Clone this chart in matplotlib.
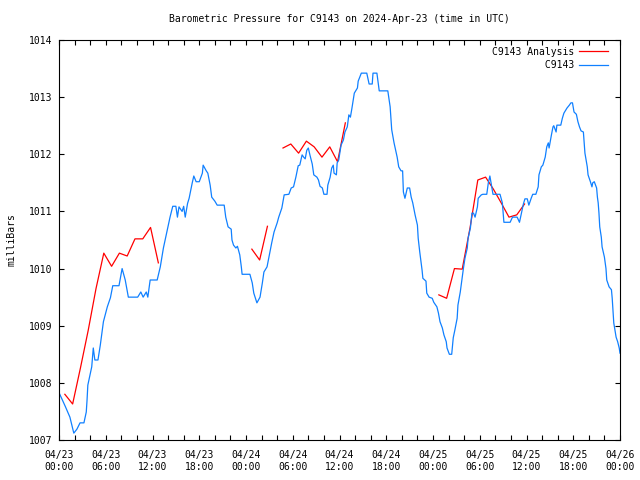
import numpy as np
import matplotlib
matplotlib.use("Agg")
import matplotlib.pyplot as plt

# hours since 2024-04-23 00:00 UTC
station_hours = [0.1, 0.8, 1.4, 1.9, 2.3, 2.7, 3.2, 3.5, 3.6, 3.7, 4.2, 4.4, 4.6, 5.0, 5.3, 5.7, 6.2, 6.6, 6.9, 7.7,
                 8.1, 8.5, 8.9, 10.1, 10.5, 10.8, 11.2, 11.4, 11.7, 12.6, 13.0, 13.4, 13.9, 14.25, 14.6, 15.0, 15.2, 15.4, 15.8, 16.0,
                 16.2, 16.5, 16.7, 17.1, 17.3, 17.6, 18.0, 18.4, 18.5, 18.9, 19.1, 19.4, 19.6, 20.0, 20.3, 21.2, 21.4, 21.7, 22.1, 22.2,
                 22.4, 22.7, 22.9, 23.2, 23.4, 23.5, 24.5, 24.8, 25.0, 25.4, 25.8, 26.1, 26.3, 26.7, 27.0, 27.3, 27.6, 28.0, 28.2, 28.6,
                 28.9, 29.5, 29.8, 30.1, 30.4, 30.7, 30.9, 31.2, 31.4, 31.6, 31.8, 32.0, 32.2, 32.5, 32.7, 33.1, 33.3, 33.5, 33.8, 34.0,
                 34.4, 34.5, 34.8, 35.0, 35.2, 35.3, 35.6, 35.7, 35.9, 36.2, 36.5, 36.7, 37.0, 37.2, 37.4, 37.6, 37.9, 38.3, 38.4, 38.8,
                 39.5, 39.8, 40.2, 40.3, 40.8, 41.1, 42.2, 42.5, 42.7, 43.0, 43.4, 43.6, 43.9, 44.1, 44.2, 44.4, 44.7, 45.0, 45.2, 45.4,
                 45.7, 46.0, 46.1, 46.3, 46.6, 46.7, 47.1, 47.2, 47.5, 47.9, 48.1, 48.5, 48.7, 48.9, 49.2, 49.4, 49.7, 49.8, 50.1, 50.4,
                 50.6, 50.8, 51.1, 51.2, 51.5, 51.7, 51.9, 52.1, 52.4, 52.5, 52.8, 53.0, 53.2, 53.4, 53.7, 53.8, 54.2, 54.4, 54.9, 55.1,
                 55.3, 55.6, 55.7, 56.6, 56.9, 57.1, 57.9, 58.2, 58.8, 59.1, 59.3, 59.6, 59.8, 60.1, 60.3, 60.6, 60.8, 61.2, 61.5, 61.6,
                 61.9, 62.1, 62.4, 62.6, 62.8, 62.9, 63.2, 63.4, 63.5, 63.8, 63.9, 64.4, 64.6, 64.8, 65.2, 65.5, 65.7, 65.9, 66.1, 66.4,
                 66.6, 66.8, 67.0, 67.3, 67.4, 67.5, 67.8, 67.9, 68.2, 68.4, 68.5, 68.7, 69.0, 69.1, 69.2, 69.3, 69.4, 69.6, 69.7, 70.0,
                 70.2, 70.3, 70.6, 70.9, 71.0, 71.1, 71.2, 71.5, 71.7, 71.9, 72.0]
station_mb = [1007.80, 1007.59, 1007.40, 1007.12, 1007.19, 1007.30, 1007.30, 1007.49, 1007.70, 1007.96, 1008.28, 1008.61, 1008.40, 1008.40, 1008.66, 1009.07, 1009.33, 1009.49, 1009.70, 1009.70,
              1010.00, 1009.80, 1009.50, 1009.50, 1009.59, 1009.50, 1009.59, 1009.50, 1009.80, 1009.80, 1010.03, 1010.36, 1010.68, 1010.90, 1011.09, 1011.09, 1010.90, 1011.08, 1011.00, 1011.09,
              1010.90, 1011.14, 1011.23, 1011.50, 1011.62, 1011.52, 1011.52, 1011.67, 1011.81, 1011.71, 1011.67, 1011.46, 1011.25, 1011.18, 1011.11, 1011.11, 1010.90, 1010.73, 1010.69, 1010.50,
              1010.41, 1010.36, 1010.39, 1010.24, 1010.03, 1009.90, 1009.90, 1009.75, 1009.57, 1009.40, 1009.50, 1009.75, 1009.94, 1010.03, 1010.24, 1010.45, 1010.64, 1010.80, 1010.90, 1011.06,
              1011.29, 1011.30, 1011.41, 1011.43, 1011.60, 1011.80, 1011.81, 1011.99, 1011.95, 1011.92, 1012.07, 1012.11, 1011.99, 1011.83, 1011.64, 1011.60, 1011.55, 1011.44, 1011.41, 1011.30,
              1011.30, 1011.46, 1011.60, 1011.76, 1011.81, 1011.67, 1011.64, 1011.85, 1011.90, 1012.16, 1012.25, 1012.39, 1012.48, 1012.69, 1012.65, 1012.81, 1013.07, 1013.16, 1013.28, 1013.42,
              1013.42, 1013.23, 1013.23, 1013.42, 1013.42, 1013.11, 1013.11, 1012.83, 1012.43, 1012.20, 1011.95, 1011.78, 1011.71, 1011.71, 1011.34, 1011.23, 1011.41, 1011.41, 1011.25, 1011.15,
              1010.94, 1010.76, 1010.53, 1010.29, 1009.97, 1009.83, 1009.78, 1009.57, 1009.50, 1009.48, 1009.41, 1009.33, 1009.22, 1009.07, 1008.96, 1008.84, 1008.72, 1008.61, 1008.50, 1008.50,
              1008.79, 1008.92, 1009.13, 1009.36, 1009.59, 1009.80, 1010.00, 1010.18, 1010.36, 1010.53, 1010.71, 1010.97, 1010.97, 1010.90, 1011.08, 1011.23, 1011.29, 1011.30, 1011.30, 1011.50,
              1011.62, 1011.38, 1011.30, 1011.30, 1011.15, 1010.81, 1010.81, 1010.90, 1010.90, 1010.81, 1010.94, 1011.13, 1011.22, 1011.22, 1011.11, 1011.23, 1011.30, 1011.30, 1011.43, 1011.64,
              1011.78, 1011.81, 1011.95, 1012.13, 1012.20, 1012.11, 1012.34, 1012.48, 1012.50, 1012.39, 1012.51, 1012.51, 1012.63, 1012.72, 1012.81, 1012.86, 1012.90, 1012.90, 1012.74, 1012.70,
              1012.57, 1012.48, 1012.41, 1012.39, 1012.20, 1012.02, 1011.78, 1011.64, 1011.52, 1011.43, 1011.50, 1011.52, 1011.41, 1011.25, 1011.15, 1010.97, 1010.73, 1010.55, 1010.38, 1010.20,
              1010.00, 1009.80, 1009.68, 1009.63, 1009.48, 1009.27, 1009.05, 1008.80, 1008.72, 1008.61, 1008.52]

# hourly analysis values (nan = no value)
nan = np.nan
analysis_hours = [h + 0.75 for h in range(60)]
analysis_mb = [1007.80, 1007.63, 1008.26, 1008.92, 1009.65, 1010.27, 1010.04, 1010.27, 1010.22, 1010.52,
               1010.52, 1010.72, 1010.10, nan, nan, nan, nan, nan, nan, nan,
               nan, nan, nan, nan, 1010.34, 1010.15, 1010.74, nan, 1012.11, 1012.18,
               1012.02, 1012.23, 1012.13, 1011.95, 1012.13, 1011.87, 1012.55, nan, nan, nan,
               nan, nan, nan, nan, nan, nan, nan, nan, 1009.54, 1009.48,
               1010.00, 1009.99, 1010.71, 1011.55, 1011.60, 1011.39, 1011.15, 1010.90, 1010.94, 1011.13]

tick_hours = list(range(0, 73, 6))
tick_labels = ["04/23\n00:00", "04/23\n06:00", "04/23\n12:00", "04/23\n18:00",
               "04/24\n00:00", "04/24\n06:00", "04/24\n12:00", "04/24\n18:00",
               "04/25\n00:00", "04/25\n06:00", "04/25\n12:00", "04/25\n18:00",
               "04/26\n00:00"]

plt.rcParams['font.family'] = ['DejaVu Sans Mono']
fs = 7

fig = plt.figure(figsize=(6.4, 4.8), dpi=100)
ax = fig.add_axes([59/640, 40/480, 561/640, 400/480])

ax.plot(analysis_hours, analysis_mb, color="#ff0000", lw=0.9, label="C9143 Analysis")
ax.plot(station_hours, station_mb, color="#1080ff", lw=0.9, label="         C9143")

ax.set_xlim(0, 72)
ax.set_ylim(1007, 1014)
ax.set_xticks(tick_hours)
ax.set_xticklabels(tick_labels, fontsize=fs, linespacing=1.3)
ax.set_xticks(range(0, 73, 2), minor=True)
ax.set_yticks(range(1007, 1015))
ax.set_yticklabels([str(v) for v in range(1007, 1015)], fontsize=fs)
ax.tick_params(which="both", direction="in", top=True, right=True, length=3.5, width=0.8)
ax.tick_params(axis="x", which="major", pad=7)
ax.tick_params(axis="y", which="major", pad=5)
for s in ax.spines.values():
    s.set_linewidth(0.8)

ax.set_title("Barometric Pressure for C9143 on 2024-Apr-23 (time in UTC)", fontsize=fs, pad=13)
fig.text(12/640, 0.5, "milliBars", rotation=90, fontsize=fs, ha="center", va="center")

leg = ax.legend(loc="upper right", bbox_to_anchor=(613/640, 1 - 42/480), bbox_transform=fig.transFigure,
                frameon=False, markerfirst=False, fontsize=fs, handlelength=3.0, handletextpad=0.45,
                labelspacing=0.35, borderpad=0)

fig.savefig("out.png", dpi=100)
